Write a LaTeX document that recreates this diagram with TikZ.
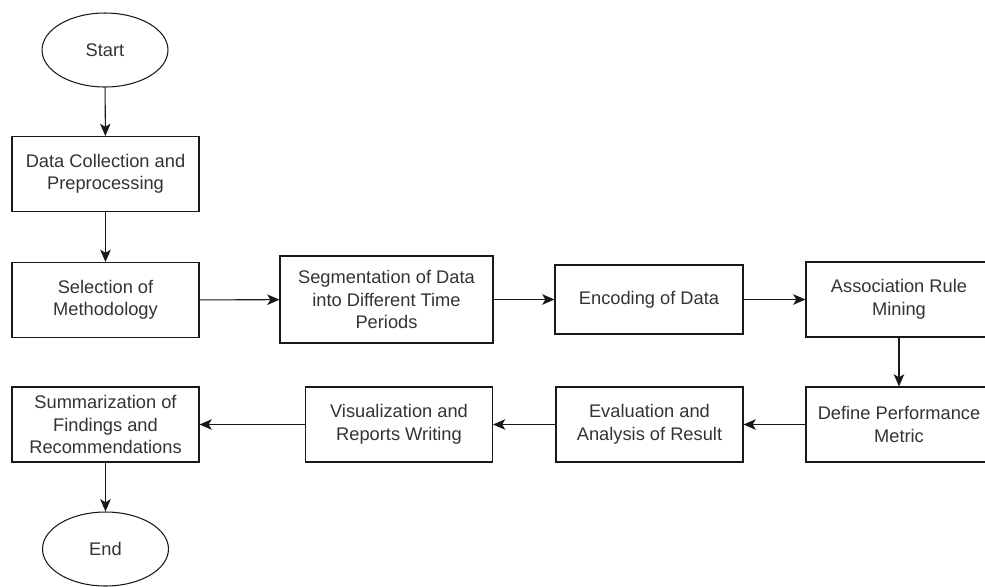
\documentclass[tikz,border=0pt]{standalone}
\usepackage{fontspec}
\setmainfont{Liberation Sans}
\usetikzlibrary{shapes.geometric, arrows.meta}

\begin{document}
\begin{tikzpicture}[x=0.02cm, y=-0.02cm,
    every node/.style={draw=black!90, line width=0.6pt, text=black!80, align=center, inner sep=0pt, font=\fontsize{10.4}{12.8}\selectfont},
    process/.style={rectangle, minimum width=3.74cm, minimum height=1.5cm},
    terminal/.style={ellipse, minimum width=2.52cm, minimum height=1.48cm},
    flow/.style={draw=black!90, line width=0.6pt, -{Stealth[length=7pt, width=6pt, inset=1.8pt]}}]
    \useasboundingbox (0,0) rectangle (985,586);
    % first column down to the method choice
    \node[terminal] (start) at (105,50) {Start};
    \node[process] (collect) at (105.5,174) {Data Collection and\\Preprocessing};
    \node[process] (method) at (105.5,300) {Selection of\\Methodology};
    % middle row, left to right
    \node[process, minimum width=4.26cm, minimum height=1.74cm] (segment) at (386.5,299.5) {Segmentation of Data\\into Different Time\\Periods};
    \node[process, minimum width=3.76cm, minimum height=1.38cm] (encode) at (649,299.5) {Encoding of Data};
    \node[process, minimum width=3.72cm] (rules) at (899,299.5) {Association Rule\\Mining};
    % bottom row, right to left
    \node[process, minimum width=3.72cm] (metric) at (899,424.5) {Define Performance\\Metric};
    \node[process] (evaluate) at (649.5,424.5) {Evaluation and\\Analysis of Result};
    \node[process] (report) at (399,424.5) {Visualization and\\Reports Writing};
    \node[process] (summary) at (105.5,424.5) {Summarization of\\Findings and\\Recommendations};
    \node[terminal] (finish) at (105.5,549) {End};

    \draw[flow] (start) -- (collect);
    \draw[flow] (collect) -- (method);
    \draw[flow] (method) -- (segment);
    \draw[flow] (segment) -- (encode);
    \draw[flow] (encode) -- (rules);
    \draw[flow] (rules) -- (metric);
    \draw[flow] (metric) -- (evaluate);
    \draw[flow] (evaluate) -- (report);
    \draw[flow] (report) -- (summary);
    \draw[flow] (summary) -- (finish);
\end{tikzpicture}
\end{document}
